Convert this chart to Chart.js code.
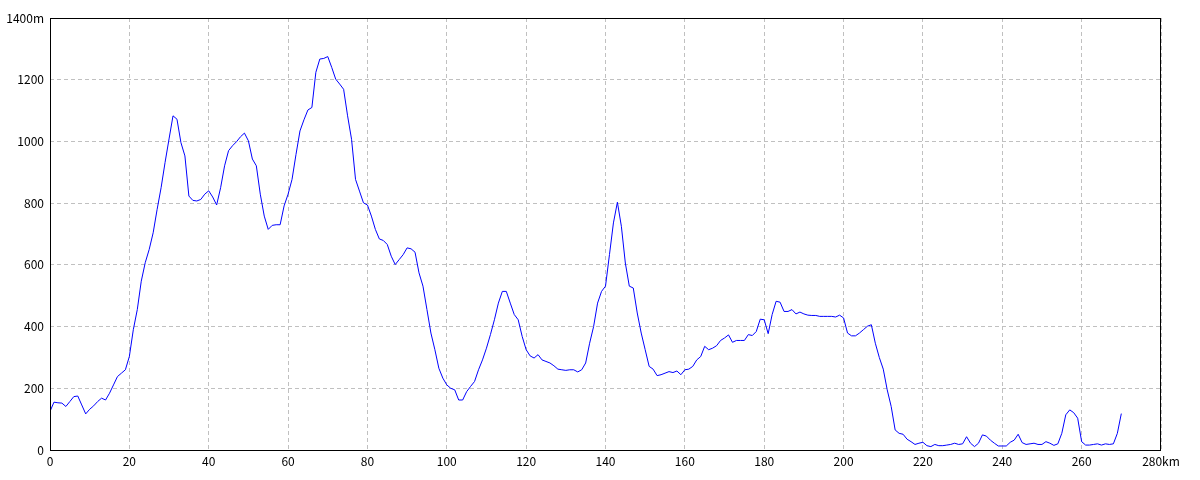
<!DOCTYPE html>
<html>
<head>
<meta charset="utf-8">
<script src="https://cdn.jsdelivr.net/npm/chart.js@4/dist/chart.umd.min.js"></script>
<style>
  html, body { margin: 0; padding: 0; background: #fff; }
  #wrap { width: 1200px; height: 480px; }
</style>
</head>
<body>
<div id="wrap"><canvas id="profile" width="1200" height="480"></canvas></div>
<script>
// elevation profile, sampled every 1 km (m)
const stepKm = 1;
const elevation = [
  125, 155, 153, 152, 141, 157, 173, 175, 146, 117,
  132, 143, 157, 168, 162, 184, 211, 238, 249, 260,
  303, 390, 455, 547, 607, 650, 704, 780, 850, 932,
  1008, 1083, 1072, 996, 953, 823, 809, 807, 812, 829,
  840, 820, 794, 850, 921, 970, 986, 999, 1015, 1027,
  1002, 943, 921, 829, 758, 715, 728, 730, 730, 791,
  829, 877, 958, 1034, 1070, 1102, 1110, 1224, 1267, 1269,
  1275, 1240, 1202, 1186, 1169, 1083, 1007, 877, 839, 801,
  794, 758, 715, 684, 679, 666, 628, 601, 617, 633,
  655, 652, 641, 574, 531, 455, 379, 325, 265, 233,
  211, 200, 195, 162, 162, 189, 206, 222, 260, 292,
  330, 374, 422, 476, 514, 514, 476, 439, 422, 368,
  325, 305, 298, 309, 292, 287, 282, 273, 262, 260,
  258, 260, 260, 253, 260, 282, 346, 400, 476, 514,
  531, 633, 736, 803, 725, 606, 531, 525, 444, 379,
  325, 271, 262, 241, 244, 249, 254, 251, 256, 244,
  260, 262, 271, 292, 303, 336, 325, 330, 338, 355,
  363, 373, 349, 355, 355, 355, 374, 371, 384, 424,
  422, 377, 439, 482, 479, 449, 449, 455, 441, 447,
  441, 437, 436, 436, 433, 433, 433, 433, 431, 437,
  428, 379, 370, 370, 379, 390, 401, 406, 346, 300,
  262, 195, 141, 65, 54, 51, 35, 27, 18, 22,
  25, 14, 11, 18, 14, 14, 16, 18, 22, 18,
  20, 43, 22, 11, 22, 49, 45, 32, 22, 13,
  13, 13, 25, 32, 51, 24, 18, 20, 22, 18,
  18, 27, 22, 15, 20, 54, 114, 130, 121, 103,
  27, 16, 16, 18, 20, 16, 20, 18, 20, 54,
  118
];

// axis ranges
const xMax = 280, xStep = 20, xUnit = 'km';
const yMax = 1400, yStep = 200, yUnit = 'm';

const points = elevation.map((v, i) => ({ x: i * stepKm, y: v }));

// black frame round the plot area
const frame = {
  id: 'frame',
  afterDraw(chart) {
    const { ctx, chartArea: a } = chart;
    ctx.save();
    ctx.strokeStyle = '#000';
    ctx.lineWidth = 1;
    ctx.strokeRect(a.left + 0.5, a.top + 0.5, a.right - a.left - 1, a.bottom - a.top);
    ctx.restore();
  }
};

const font = { family: '"Noto Sans CJK JP", "DejaVu Sans", sans-serif', size: 12 };

new Chart(document.getElementById('profile'), {
  type: 'line',
  data: {
    datasets: [{
      data: points,
      borderColor: '#0000ff',
      borderWidth: 1,
      pointRadius: 0,
      tension: 0,
      fill: false,
    }]
  },
  options: {
    responsive: false,
    animation: false,
    layout: { padding: { top: 18, right: 39, left: 0, bottom: 0 } },
    plugins: { legend: { display: false }, tooltip: { enabled: false } },
    scales: {
      x: {
        type: 'linear', min: 0, max: xMax,
        afterFit: s => { s.height = 30; },
        grid: { color: '#c0c0c0', lineWidth: 1, drawTicks: false },
        border: { display: false, dash: [4, 3] },
        ticks: {
          stepSize: xStep, color: '#000', font, padding: 4, maxRotation: 0,
          callback: v => v === xMax ? v + xUnit : v
        }
      },
      y: {
        min: 0, max: yMax,
        afterFit: s => { s.width = 50; },
        grid: { color: '#c0c0c0', lineWidth: 1, drawTicks: false },
        border: { display: false, dash: [4, 3] },
        ticks: {
          stepSize: yStep, color: '#000', font, padding: 6,
          callback: v => v === yMax ? v + yUnit : v
        }
      }
    }
  },
  plugins: [frame]
});
</script>
</body>
</html>
